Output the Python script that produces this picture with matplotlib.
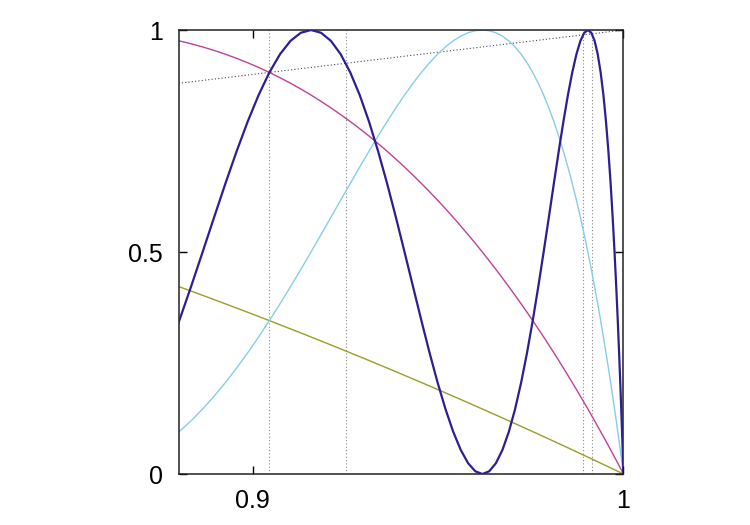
import matplotlib
matplotlib.use("Agg")
import matplotlib.pyplot as plt

# Sample points (x positions and the four curve heights)
x = [0.88, 0.880205, 0.883373, 0.886505, 0.889602, 0.89266, 0.895679, 0.89866, 0.901606,
     0.90451, 0.907369, 0.910195, 0.912988, 0.915735, 0.918439, 0.921105, 0.923735,
     0.92632, 0.928868, 0.93137, 0.933831, 0.93625, 0.938625, 0.94096, 0.943255,
     0.945505, 0.947707, 0.94987, 0.951993, 0.95407, 0.956101, 0.95809, 0.960040,
     0.96194, 0.963794, 0.965605, 0.967374, 0.969095, 0.970774, 0.972405, 0.973990,
     0.97553, 0.977022, 0.97847, 0.979875, 0.98123, 0.982538, 0.9838, 0.985016,
     0.986185, 0.987310, 0.988385, 0.989414, 0.990395, 0.991329, 0.992215, 0.993054,
     0.993845, 0.994589, 0.995285, 0.995934, 0.996535, 0.997085, 0.99759, 0.998051,
     0.99846, 0.998822, 0.999135, 0.999399, 0.999615, 0.999785, 0.999905, 0.999976, 1.0]

olive = [0.4224, 0.421783, 0.412102, 0.402455, 0.392841, 0.383277, 0.373754, 0.364280,
         0.354852, 0.345492, 0.336202, 0.326942, 0.317764, 0.308658, 0.299637, 0.290670,
         0.281796, 0.273005, 0.264291, 0.255689, 0.247164, 0.238750, 0.230432, 0.222215,
         0.214100, 0.206107, 0.198236, 0.190453, 0.182809, 0.175276, 0.167888, 0.160600,
         0.153455, 0.146447, 0.139582, 0.132839, 0.126248, 0.119797, 0.113486, 0.107341,
         0.101334, 0.095492, 0.089800, 0.084265, 0.078882, 0.073680, 0.068630, 0.063752,
         0.059040, 0.054497, 0.050118, 0.045928, 0.041896, 0.038060, 0.034385, 0.030904,
         0.027593, 0.024472, 0.021529, 0.018772, 0.016198, 0.013815, 0.011626, 0.009607,
         0.007781, 0.006156, 0.004706, 0.003466, 0.002405, 0.001541, 0.000862, 0.000386,
         0.000096, 0.0]

magenta = [0.97593, 0.97553, 0.969102, 0.96194, 0.954080, 0.94550, 0.936250, 0.92632,
           0.915734, 0.90451, 0.892666, 0.88021, 0.867152, 0.85355, 0.839386, 0.82473,
           0.809532, 0.79389, 0.777783, 0.76125, 0.744320, 0.72700, 0.709318, 0.69134,
           0.673040, 0.65451, 0.635719, 0.61673, 0.597544, 0.57822, 0.558779, 0.53923,
           0.519633, 0.5, 0.480372, 0.46077, 0.441235, 0.42178, 0.402455, 0.38328,
           0.364280, 0.34549, 0.326942, 0.30866, 0.290670, 0.27300, 0.255689, 0.23875,
           0.222215, 0.20611, 0.190453, 0.17528, 0.160600, 0.14645, 0.132839, 0.11980,
           0.107341, 0.09549, 0.084265, 0.07368, 0.063752, 0.05450, 0.045928, 0.03806,
           0.030904, 0.02447, 0.018772, 0.01382, 0.009607, 0.00616, 0.003466, 0.00154,
           0.000386, 0.0]

skyblue = [0.09396, 0.09549, 0.119797, 0.14645, 0.175276, 0.20611, 0.238750, 0.27300,
           0.308658, 0.34549, 0.383277, 0.42178, 0.460772, 0.5, 0.539232, 0.57822,
           0.616727, 0.65451, 0.691342, 0.72700, 0.761256, 0.79389, 0.824718, 0.85355,
           0.880200, 0.90451, 0.926329, 0.94550, 0.961949, 0.97553, 0.986188, 0.99384,
           0.998461, 1.0, 0.998461, 0.99384, 0.986188, 0.97553, 0.961949, 0.94550,
           0.926329, 0.90451, 0.880200, 0.85355, 0.824718, 0.79389, 0.761256, 0.72700,
           0.691342, 0.65451, 0.616727, 0.57822, 0.539232, 0.5, 0.460772, 0.42178,
           0.383277, 0.34549, 0.308658, 0.27300, 0.238750, 0.20611, 0.175276, 0.14645,
           0.119797, 0.09549, 0.073680, 0.05450, 0.038060, 0.02447, 0.013815, 0.00616,
           0.001541, 0.0]

darkblue = [0.34053, 0.34549, 0.421783, 0.5, 0.578217, 0.65451, 0.726995, 0.79389,
            0.853553, 0.90451, 0.945503, 0.97553, 0.993844, 1.0, 0.993844, 0.97553,
            0.945503, 0.90451, 0.853553, 0.79389, 0.726995, 0.65451, 0.578217, 0.5,
            0.421783, 0.34549, 0.273005, 0.20611, 0.146447, 0.09549, 0.054497, 0.02447,
            0.006156, 0.0, 0.006156, 0.02447, 0.054497, 0.09549, 0.146447, 0.20611,
            0.273005, 0.34549, 0.421783, 0.5, 0.578217, 0.65451, 0.726995, 0.79389,
            0.853553, 0.90451, 0.945503, 0.97553, 0.993844, 1.0, 0.993844, 0.97553,
            0.945503, 0.90451, 0.853553, 0.79389, 0.726995, 0.65451, 0.578217, 0.5,
            0.421783, 0.34549, 0.273005, 0.20611, 0.146447, 0.09549, 0.054497, 0.02447,
            0.006156, 0.0]

diag_x = [0.88, 1.0]
diag_y = [0.88, 1.0]
vlines_x = [0.90451, 0.92512, 0.98907, 0.99148]

xticks = [0.9, 1.0]
xticklabels = ["0.9", "1"]
yticks = [0, 0.5, 1]
yticklabels = ["0", "0.5", "1"]

plt.rcParams['font.family'] = ['Liberation Sans', 'DejaVu Sans']

fig = plt.figure(figsize=(7.5, 5.25), dpi=100)
ax = fig.add_axes([0.238, 0.0971, 0.5933, 0.8457])

dot = (0, (1, 2))
for vx in vlines_x:
    ax.plot([vx, vx], [0, 1], color='#888888', lw=0.8, linestyle=dot, zorder=1)
ax.plot(diag_x, diag_y, color='#444444', lw=0.8, linestyle=dot, zorder=1)

ax.plot(x, olive, color='#9c9c2a', lw=1.0, zorder=2)
ax.plot(x, magenta, color='#c2409a', lw=1.0, zorder=2)
ax.plot(x, skyblue, color='#87cdeb', lw=1.0, zorder=2)
ax.plot(x, darkblue, color='#2b1f91', lw=1.6, zorder=3)

ax.set_xlim(0.88, 1.0)
ax.set_ylim(0, 1)
ax.set_xticks(xticks)
ax.set_xticklabels(xticklabels)
ax.set_yticks(yticks)
ax.set_yticklabels(yticklabels)
ax.tick_params(direction='in', length=6, width=1, labelsize=18, pad=11,
               top=True, right=True, colors='black')
for s in ax.spines.values():
    s.set_linewidth(1.1)
    s.set_color('#222222')

fig.savefig('out.png', dpi=100)
